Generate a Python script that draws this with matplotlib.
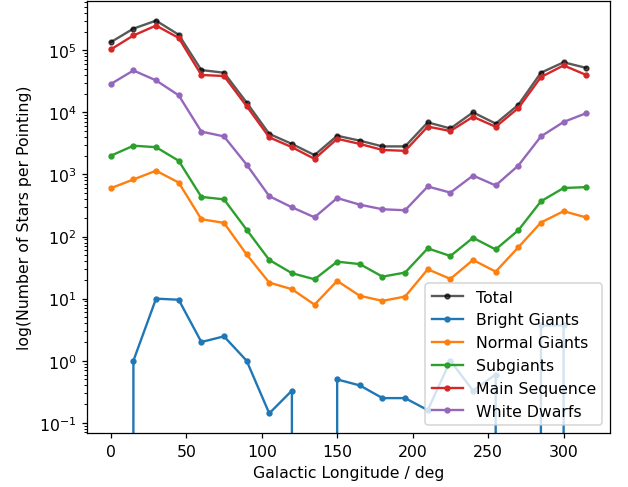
import numpy as np
import matplotlib
matplotlib.use("Agg")
import matplotlib.pyplot as plt

# galactic longitude of each pointing (deg)
lon = list(range(0, 316, 15))

# mean star counts per pointing
total = [1.35e5, 2.23e5, 3.0e5, 1.78e5, 4.8e4, 4.35e4, 1.44e4, 4.5e3, 3.1e3, 2.05e3, 4.2e3,
         3.5e3, 2.83e3, 2.83e3, 6.9e3, 5.5e3, 1.0e4, 6.6e3, 1.32e4, 4.35e4, 6.4e4, 5.2e4]
bright_giants = [0, 1.0, 10.0, 9.6, 2.0, 2.47, 1.0, 0.142, 0.33, 0, 0.5,
                 0.40, 0.25, 0.25, 0.16, 1.0, 0.33, 0.6, 0, 3.7, 3.7, 0]
normal_giants = [600, 830, 1150, 740, 190, 166, 51.5, 18.1, 14.2, 8.0, 19.3,
                 11.1, 9.2, 10.8, 29.7, 20.8, 42, 27.2, 67, 168, 256, 203]
subgiants = [2000, 2900, 2750, 1660, 435, 397, 129, 42, 25.7, 20.5, 39.4,
             36, 22.6, 26.3, 64.5, 48.6, 95.5, 62, 126, 370, 605, 625]
main_sequence = [1.03e5, 1.73e5, 2.5e5, 1.58e5, 4.0e4, 3.85e4, 1.26e4, 3.96e3, 2.75e3, 1.78e3, 3.75e3,
                 3.1e3, 2.48e3, 2.4e3, 5.9e3, 5.0e3, 8.5e3, 5.85e3, 1.17e4, 3.7e4, 5.7e4, 4.0e4]
white_dwarfs = [2.86e4, 4.73e4, 3.27e4, 1.88e4, 4.9e3, 4.1e3, 1.44e3, 447, 296, 204, 417,
                326, 275, 265, 640, 510, 960, 665, 1390, 4100, 7000, 9700]

DPI = 113
fig = plt.figure(figsize=(628 / DPI, 488 / DPI), dpi=DPI)
ax = fig.add_axes([87 / 628, 54 / 488, 523 / 628, 432 / 488])

ax.plot(lon, total, marker=".", color="k", alpha=0.65, label="Total")
ax.plot(lon, bright_giants, marker=".", label="Bright Giants")
ax.plot(lon, normal_giants, marker=".", label="Normal Giants")
ax.plot(lon, subgiants, marker=".", label="Subgiants")
ax.plot(lon, main_sequence, marker=".", label="Main Sequence")
ax.plot(lon, white_dwarfs, marker=".", label="White Dwarfs")

ax.set_yscale("log")
ax.set_xlabel("Galactic Longitude / deg")
ax.set_ylabel("log(Number of Stars per Pointing)")
ax.legend(loc="lower right")

fig.savefig("out.png", dpi=DPI)
